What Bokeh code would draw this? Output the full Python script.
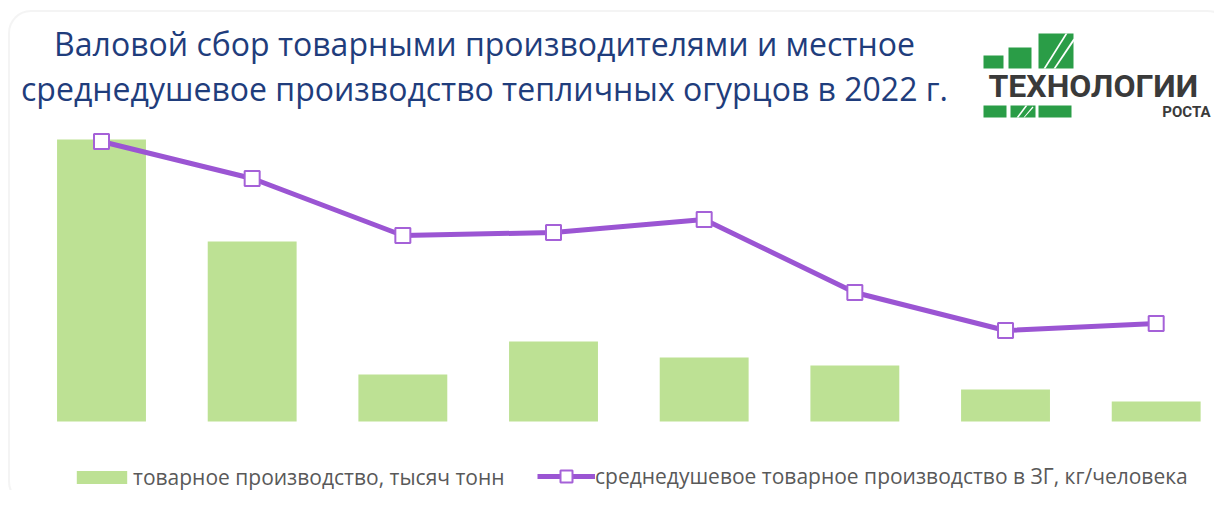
from bokeh.plotting import figure
from bokeh.models import Range1d, Label, BoxAnnotation, PolyAnnotation, Legend, LegendItem
from bokeh.embed import file_html
from bokeh.resources import INLINE

# ---------------- data ----------------
positions = [0, 1, 2, 3, 4, 5, 6, 7]
production = [141, 90, 23.5, 40, 32, 28, 16, 10]              # тысяч тонн
per_capita = [14.0, 12.15, 9.3, 9.45, 10.1, 6.45, 4.55, 4.9]  # кг/человека
title_lines = [
    "Валовой сбор товарными производителями и местное",
    "среднедушевое производство тепличных огурцов в 2022 г.",
]
legend_labels = [
    "товарное производство, тысяч тонн",
    "среднедушевое товарное производство в ЗГ, кг/человека",
]
logo_words = ["ТЕХНОЛОГИИ", "РОСТА"]

# ---------------- layout ----------------
W, H = 1214, 490
X_FIRST, X_STEP = 101, 150.67
BASE, PPU, PPU2 = 421, 2.0, 20.0

xs = -X_FIRST / X_STEP
xe = xs + W / X_STEP
ye = BASE / PPU
ys = -(H - BASE) / PPU
ye2 = BASE / PPU2
ys2 = -(H - BASE) / PPU2


def px(xi):
    return xs + xi / X_STEP


def py(yi):
    return ye - yi / PPU


p = figure(width=W, height=H, output_backend="svg", toolbar_location=None,
           x_range=Range1d(xs, xe), y_range=Range1d(ys, ye),
           x_axis_location=None, y_axis_location=None, min_border=0)
p.title.visible = False
p.grid.visible = False
p.outline_line_color = None
p.background_fill_color = "white"
p.border_fill_color = "white"
p.extra_y_ranges = {"pc": Range1d(ys2, ye2)}

GREEN_BAR = "#BDE194"
PURPLE = "#9B55D3"

bars = p.vbar(x=positions, top=production, bottom=0, width=0.59,
              fill_color=GREEN_BAR, line_color=None)
ln = p.line(x=positions, y=per_capita, y_range_name="pc",
            line_color=PURPLE, line_width=5)
pts = p.scatter(x=positions, y=per_capita, y_range_name="pc", marker="square",
                size=15, fill_color="white", line_color="#A561D8", line_width=2)

# frame border (rounded)
p.add_layout(BoxAnnotation(left=px(8.5), right=px(1229), top=py(10.5), bottom=py(503),
                           fill_alpha=0, line_color="#D9D9D9", line_width=2,
                           border_radius=22))

# title
TITLE_SIZE = 32
for t, yb in zip(title_lines, [55, 100]):
    p.add_layout(Label(x=px(484), y=py(yb - 0.36 * TITLE_SIZE), text=t, text_align="center",
                       text_baseline="middle", text_font="Open Sans",
                       text_font_size=f"{TITLE_SIZE}px", text_color="#1F3D7C"))

# logo (shifted a little left so it fits inside the canvas)
LX = -7
LOGO_G = "#2A9D47"
for (l, r, t, b) in [(990, 1010, 55, 68), (1015, 1038, 47, 68), (1045, 1080, 33, 68),
                     (990, 1013, 105, 117), (1017, 1042, 105, 117), (1045, 1078, 105, 117)]:
    p.add_layout(BoxAnnotation(left=px(l + LX), right=px(r + LX), top=py(t), bottom=py(b),
                               fill_color=LOGO_G, fill_alpha=1, line_color=None))
for (xs_, ys_) in [([1050, 1052, 1074, 1072], [68, 68, 33, 33]),
                   ([1060, 1062, 1081, 1080], [68, 68, 40, 38]),
                   ([1023, 1025, 1034, 1032], [117, 117, 105, 105]),
                   ([1030, 1031, 1040, 1039], [117, 117, 107, 106])]:
    p.add_layout(PolyAnnotation(xs=[px(v + LX) for v in xs_], ys=[py(v) for v in ys_],
                                fill_color="white", fill_alpha=1, line_color=None))
p.add_layout(Label(x=px(995 + LX), y=py(85.5), text=logo_words[0], text_align="left",
                   text_baseline="middle", text_font="Roboto",
                   text_font_style="bold", text_font_size="32px", text_color="#3A3A3A"))
p.add_layout(Label(x=px(1217 + LX), y=py(111.5), text=logo_words[1], text_align="right",
                   text_baseline="middle", text_font="Roboto",
                   text_font_style="bold", text_font_size="15px", text_color="#3A3A3A"))

# legends
common = dict(border_line_color=None, background_fill_alpha=0, padding=0, margin=0,
              label_text_font="Open Sans", label_text_font_size="21px",
              label_text_color="#595959", orientation="horizontal")
leg1 = Legend(items=[LegendItem(label=legend_labels[0], renderers=[bars])],
              location=(70, -1), glyph_width=63, glyph_height=16, label_standoff=0, **common)
leg2 = Legend(items=[LegendItem(label=legend_labels[1], renderers=[ln, pts])],
              location=(537, -1), glyph_width=58, glyph_height=30, label_standoff=0, **common)
p.add_layout(leg1)
p.add_layout(leg2)

open("out.html", "w").write(file_html(p, INLINE))
